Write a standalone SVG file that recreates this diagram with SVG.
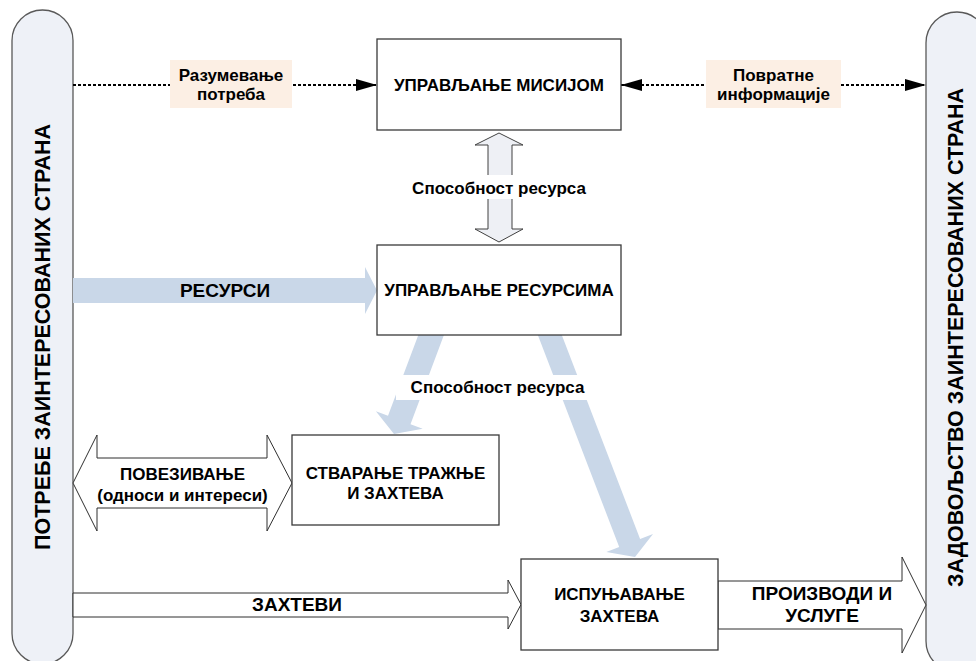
<svg xmlns="http://www.w3.org/2000/svg" width="976" height="661" viewBox="0 0 976 661">
  <defs>
    <marker id="head" viewBox="0 0 10 10" refX="10" refY="5" markerUnits="userSpaceOnUse" markerWidth="21" markerHeight="12" orient="auto-start-reverse" preserveAspectRatio="none">
      <path d="M0,0 L10,5 L0,10 z" fill="#000"/>
    </marker>
    <style>
      text { font-family: "Liberation Sans", Arial, sans-serif; font-weight: bold; fill: #000; text-anchor: middle; }
      .t17 { font-size: 17px; }
      .t19 { font-size: 19px; }
      .side { font-size: 21.5px; }
      .pill { fill: #eef1f7; stroke: #595959; stroke-width: 1.3; }
      .box { fill: #fff; stroke: #3a3a3a; stroke-width: 1.3; }
      .flow { fill: #c9d7e8; stroke: none; }
      .hollow { fill: #fff; stroke: #2f2f2f; stroke-width: 1; }
      .dual { fill: #eef0f5; stroke: #404040; stroke-width: 1; }
      .dots { stroke: #000; stroke-width: 2; stroke-dasharray: 3 2; fill: none; }
      .note { fill: #fcefe4; stroke: none; }
      .bg { fill: #fff; stroke: none; }
    </style>
  </defs>

  <!-- stakeholder columns -->
  <g id="needs">
    <rect class="pill" x="12" y="10" width="61" height="654" rx="30.5"/>
    <text class="side" transform="translate(49.5,337) rotate(-90)">ПОТРЕБЕ ЗАИНТЕРЕСОВАНИХ СТРАНА</text>
  </g>
  <g id="satisfaction">
    <rect class="pill" x="926" y="12" width="62" height="660" rx="31"/>
    <text class="side" transform="translate(962.5,337.5) rotate(-90)">ЗАДОВОЉСТВО ЗАИНТЕРЕСОВАНИХ СТРАНА</text>
  </g>

  <!-- connectors -->
  <g id="connectors">
    <!-- dotted information flows -->
    <line class="dots" x1="73" y1="85" x2="377" y2="85" marker-end="url(#head)"/>
    <line class="dots" x1="621" y1="85" x2="926" y2="85" marker-start="url(#head)" marker-end="url(#head)"/>

    <!-- resources into resource management -->
    <polygon class="flow" points="73,278 365,278 365,267 377,290.5 365,314 365,303 73,303"/>

    <!-- capability flows out of resource management -->
    <polygon class="flow" points="447.2,326.2 410.5,424.2 422.7,428.7 394,434 375.9,411.2 388,415.7 424.8,317.8"/>
    <polygon class="flow" points="554.5,316 640.1,539 653,534 635,557 606.3,552 619.2,547 533.6,324"/>

    <!-- mission / resources two-way link -->
    <polygon class="dual" points="499,133 523,145 512,145 512,229 523,229 499,242 475,229 488,229 488,145 475,145"/>

    <!-- relationships -->
    <polygon class="hollow" points="73,483 97,435 97,458 267,458 267,435 292,483 267,531 267,508 97,508 97,531"/>

    <!-- requirements -->
    <polygon class="hollow" points="73,593 508,593 508,580 521,604.5 508,629 508,617 73,617"/>

    <!-- products and services -->
    <polygon class="hollow" points="718,581 902,581 902,557 926,605 902,653 902,629 718,629"/>

    <!-- labels on connectors -->
    <rect class="note" x="170" y="60" width="122" height="48"/>
    <text class="t17" x="231" y="81">Разумевање</text>
    <text class="t17" x="231" y="100">потреба</text>

    <rect class="note" x="706" y="60" width="135" height="48"/>
    <text class="t17" x="773.5" y="81">Повратне</text>
    <text class="t17" x="773.5" y="100">информације</text>

    <rect class="bg" x="408" y="175" width="182" height="24"/>
    <text class="t17" x="499" y="194">Способност ресурса</text>

    <rect class="bg" x="396" y="375" width="198" height="25"/>
    <text class="t17" x="497.5" y="393">Способност ресурса</text>

    <text class="t19" x="225" y="297">РЕСУРСИ</text>
    <text class="t17" x="182.5" y="480">ПОВЕЗИВАЊЕ</text>
    <text class="t17" x="182.5" y="501">(односи и интереси)</text>
    <text class="t19" x="297" y="611">ЗАХТЕВИ</text>
    <text class="t19" x="822" y="599.5">ПРОИЗВОДИ И</text>
    <text class="t19" x="822" y="622">УСЛУГЕ</text>
  </g>

  <!-- process boxes -->
  <g id="mission">
    <rect class="box" x="377" y="39" width="244" height="91"/>
    <text class="t17" x="499" y="91">УПРАВЉАЊЕ МИСИЈОМ</text>
  </g>
  <g id="resources">
    <rect class="box" x="377" y="245" width="244" height="90"/>
    <text class="t17" x="499" y="296">УПРАВЉАЊЕ РЕСУРСИМА</text>
  </g>
  <g id="demand">
    <rect class="box" x="292" y="435" width="207" height="90"/>
    <text class="t17" x="395.5" y="478.5">СТВАРАЊЕ ТРАЖЊЕ</text>
    <text class="t17" x="395.5" y="498.5">И ЗАХТЕВА</text>
  </g>
  <g id="fulfilment">
    <rect class="box" x="521" y="559" width="197" height="91"/>
    <text class="t17" x="619.5" y="600">ИСПУЊАВАЊЕ</text>
    <text class="t17" x="619.5" y="621.5">ЗАХТЕВА</text>
  </g>
</svg>
